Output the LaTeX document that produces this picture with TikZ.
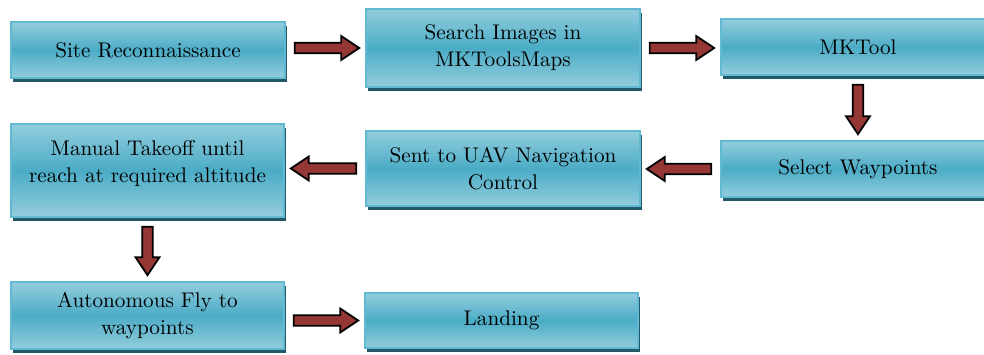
\documentclass[tikz,border=0pt]{standalone}
\usetikzlibrary{calc,shadows}

\definecolor{boxlight}{HTML}{93CDDD}
\definecolor{boxmid}{HTML}{4BACC6}
\definecolor{boxedge}{HTML}{62BAD2}
\definecolor{boxshade}{HTML}{215968}
\definecolor{arrowred}{HTML}{953735}

\tikzset{
  stepbox/.style={rectangle, draw=boxedge, line width=0.8pt,
    top color=boxlight, bottom color=boxlight, middle color=boxmid,
    drop shadow={shadow xshift=1.2pt, shadow yshift=-2.2pt, fill=boxshade, opacity=1},
    align=center, inner sep=2pt,
    font=\fontsize{10.6}{13.5}\selectfont},
  fatarrow/.style={fill=arrowred, draw=black, line width=0.9pt, line join=miter,
    to path={
      ($(\tikztostart)!4.5pt!(\tikztotarget)$) coordinate (fa-s)
      ($(\tikztotarget)!3pt!(\tikztostart)$) coordinate (fa-t)
      ($(fa-s)!2.6pt!90:(fa-t)$)
      -- ($(fa-t)!9pt!(fa-s)!2.6pt!90:(fa-t)$)
      -- ($(fa-t)!9pt!(fa-s)!6pt!90:(fa-t)$)
      -- (fa-t)
      -- ($(fa-t)!9pt!(fa-s)!6pt!-90:(fa-t)$)
      -- ($(fa-t)!9pt!(fa-s)!2.6pt!-90:(fa-t)$)
      -- ($(fa-s)!2.6pt!-90:(fa-t)$)
      -- cycle}}
}

\begin{document}
\begin{tikzpicture}[x=0.5pt, y=-0.5pt]
		\useasboundingbox (0,0) rectangle (984,354);

		% first row
		\node (site) at (148,50) [stepbox, minimum width=137pt, minimum height=28pt] {Site Reconnaissance};
		\node (search) at (503,48) [stepbox, minimum width=137pt, minimum height=39pt] {Search Images in\\MKToolsMaps};
		\node (mktool) at (858,47) [stepbox, minimum width=137pt, minimum height=28pt] {MKTool};

		% second row
		\node (select) at (858,169) [stepbox, minimum width=137pt, minimum height=28pt] {Select Waypoints};
		\node (sent) at (503,168.5) [stepbox, minimum width=137pt, minimum height=37.5pt] {Sent to UAV Navigation\\Control};
		\node (manual) at (147.5,170.5) [stepbox, minimum width=136.5pt, minimum height=46.5pt] {Manual Takeoff until\\reach at required altitude\\[-4.5pt]\mbox{}};

		% third row
		\node (auto) at (147.5,315.5) [stepbox, minimum width=136.5pt, minimum height=33.5pt] {Autonomous Fly to\\waypoints};
		\node (landing) at (501.5,320.5) [stepbox, minimum width=136.5pt, minimum height=27.5pt] {Landing};

		\draw[fatarrow] (site.east |- search.west) to (search.west);
		\draw[fatarrow] (search.east) to (search.east -| mktool.west);
		\draw[fatarrow] (mktool.south) to (select.north);
		\draw[fatarrow] (select.west) to (select.west -| sent.east);
		\draw[fatarrow] (sent.west) to (sent.west -| manual.east);
		\draw[fatarrow] (manual.south) to (auto.north);
		\draw[fatarrow] (landing.west -| auto.east) to (landing.west);

\end{tikzpicture}
\end{document}
